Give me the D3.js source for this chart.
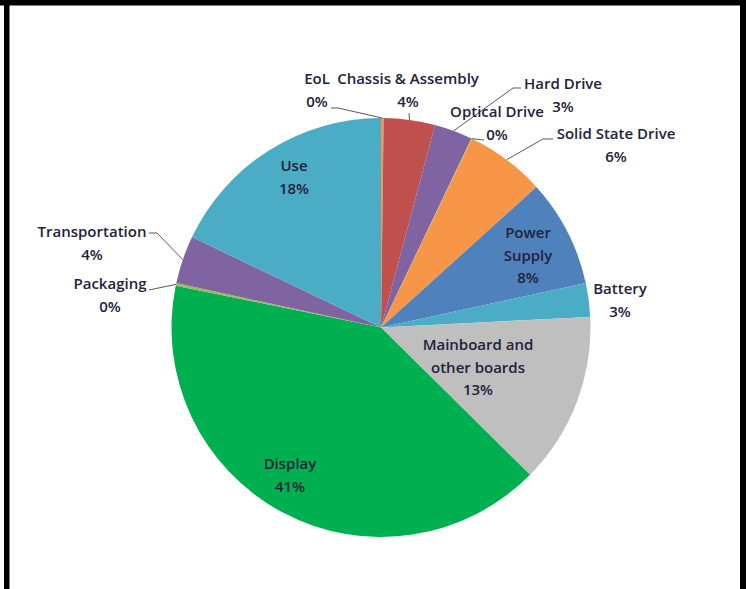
<!DOCTYPE html>
<html>
<head>
<meta charset="utf-8">
<script src="https://cdn.jsdelivr.net/npm/d3@7"></script>
<style>
  body { margin: 0; background: #fff; }
  svg text { font-family: "Open Sans", sans-serif; font-size: 15px; font-weight: 600; fill: #22223a; }
</style>
</head>
<body>
<script>
// Chart data
const categories = ["EoL", "Chassis & Assembly", "Hard Drive", "Optical Drive", "Solid State Drive",
  "Power Supply", "Battery", "Mainboard and other boards", "Display", "Packaging", "Transportation", "Use"];
const values = [0.2, 3.95, 2.95, 0.05, 6.15, 8.3, 2.6, 13.2, 40.8, 0.2, 3.7, 17.9];
const colors = ["#F79646", "#C0504D", "#8064A2", "#9BBB59", "#F79646", "#4F81BD",
  "#4BACC6", "#BFBFBF", "#00B050", "#9BBB59", "#8064A2", "#4BACC6"];

// Label layout: text lines, centre of first line, leader line points (elbow, end)
const labelLines = [["EoL"], ["Chassis & Assembly"], ["Hard Drive"], ["Optical Drive"], ["Solid State Drive"],
  ["Power", "Supply"], ["Battery"], ["Mainboard and", "other boards"], ["Display"], ["Packaging"], ["Transportation"], ["Use"]];
const labelPos = [[317, 79], [408, 79], [563, 84], [497, 112], [616, 134],
  [528, 233], [620, 289], [478, 345], [290, 464], [110, 284], [92, 232], [294, 166]];
const leaders = [
  [[338, 108], [331, 108]],
  [[409, 113]],
  [[513, 88], [521, 88]],
  [[484, 140]],
  [[543, 139], [553, 139]],
  null, null, null, null,
  [[149, 290]],
  [[157, 233], [149, 233]],
  null
];

const width = 746;
const height = 589;
const cx = 381, cy = 327.5, r = 209.5;

const svg = d3.select("body")
  .append("svg")
  .attr("width", width)
  .attr("height", height);

// Border (top, left, right)
svg.append("rect").attr("x", 0).attr("y", 0).attr("width", width).attr("height", 5.5).attr("fill", "#000");
svg.append("rect").attr("x", 4).attr("y", 0).attr("width", 5.5).attr("height", height).attr("fill", "#000");
svg.append("rect").attr("x", 740).attr("y", 0).attr("width", 6).attr("height", height).attr("fill", "#000");

const pie = d3.pie().sort(null).value(d => d)(values);
const arc = d3.arc().innerRadius(0).outerRadius(r);
const edge = d3.arc().innerRadius(r).outerRadius(r);

const g = svg.append("g").attr("transform", `translate(${cx},${cy})`);

g.selectAll("path.slice")
  .data(pie)
  .enter()
  .append("path")
  .attr("class", "slice")
  .attr("d", arc)
  .attr("fill", (d, i) => colors[i]);

// Leader lines
const line = d3.line();
pie.forEach((d, i) => {
  if (!leaders[i]) return;
  const [ex, ey] = edge.centroid(d);
  const pts = [[ex + cx, ey + cy], ...leaders[i]];
  svg.append("path")
    .attr("d", line(pts))
    .attr("fill", "none")
    .attr("stroke", "#595959")
    .attr("stroke-width", 1);
});

// Labels
const lh = 22.5;
values.forEach((v, i) => {
  const t = svg.append("text")
    .attr("text-anchor", "middle")
    .attr("x", labelPos[i][0])
    .attr("y", labelPos[i][1])
    .attr("dy", "0.35em");
  const lines = [...labelLines[i], Math.round(v) + "%"];
  lines.forEach((s, k) => {
    t.append("tspan")
      .attr("x", labelPos[i][0])
      .attr("dy", k === 0 ? "0.35em" : lh)
      .text(s);
  });
});
</script>
</body>
</html>
